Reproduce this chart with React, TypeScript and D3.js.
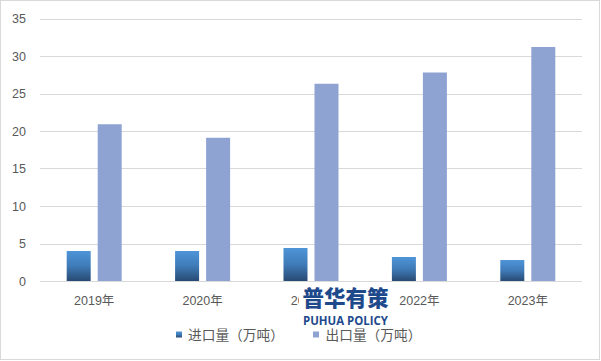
import React from "react";
import * as d3 from "d3";

const categories = ["2019年", "2020年", "2021年", "2022年", "2023年"];
const importValues = [4.0, 4.0, 4.4, 3.2, 2.8];
const exportValues = [20.9, 19.1, 26.3, 27.8, 31.2];
const seriesNames = ["进口量（万吨）", "出口量（万吨）"];
const yTicks = [0, 5, 10, 15, 20, 25, 30, 35];

const W = 601;
const H = 361;
const FONT = "'Liberation Sans', 'Noto Sans CJK SC', sans-serif";
const CJK = "'Noto Sans CJK SC', 'Liberation Sans', sans-serif";
const TEXT = "#595959";
const EXPORT_COLOR = "#8FA3D3";

export default function App() {
  const x = d3.scaleBand<string>().domain(categories).range([40, 582]).paddingInner(0).paddingOuter(0);
  const y = d3.scaleLinear().domain([0, 35]).range([281, 18.5]);
  const x1 = d3
    .scaleBand<string>()
    .domain(["import", "export"])
    .range([0, x.bandwidth()])
    .paddingInner(0.2258)
    .paddingOuter(0.861);

  return (
    <svg
      width={W}
      height={H}
      viewBox={`0 0 ${W} ${H}`}
      style={{ position: "absolute", left: 0, top: 0, background: "#fff" }}
    >
      <defs>
        <linearGradient id="impGrad" x1="0" y1="0" x2="0" y2="1">
          <stop offset="0" stopColor="#4E95D8" />
          <stop offset="0.5" stopColor="#3F7BB8" />
          <stop offset="1" stopColor="#284A73" />
        </linearGradient>
      </defs>
      <rect x={0} y={0} width={W} height={H} fill="#fff" />
      <rect x={0.5} y={0.5} width={599} height={359} fill="none" stroke="#d9d9d9" strokeWidth={1} />

      {yTicks.map((t) => (
        <g key={t}>
          <line x1={40} x2={582} y1={Math.round(y(t)) + 0.5} y2={Math.round(y(t)) + 0.5} stroke="#d9d9d9" strokeWidth={1} />
          <text x={26} y={y(t) + 4.5} textAnchor="end" fontSize={12.5} fill={TEXT} fontFamily={FONT}>
            {t}
          </text>
        </g>
      ))}

      {categories.map((c, i) => (
        <g key={c}>
          <rect
            x={(x(c) as number) + (x1("import") as number)}
            y={y(importValues[i])}
            width={x1.bandwidth()}
            height={y(0) - y(importValues[i])}
            fill="url(#impGrad)"
          />
          <rect
            x={(x(c) as number) + (x1("export") as number)}
            y={y(exportValues[i])}
            width={x1.bandwidth()}
            height={y(0) - y(exportValues[i])}
            fill={EXPORT_COLOR}
          />
          <text
            x={(x(c) as number) + x.bandwidth() / 2}
            y={305}
            textAnchor="middle"
            fontSize={12.5}
            fill={TEXT}
            fontFamily={FONT}
          >
            {c}
          </text>
        </g>
      ))}

      {/* watermark */}
      <rect x={299} y={284} width={92} height={26} fill="#fff" />
      <text x={345.5} y={306} textAnchor="middle" fontSize={21.5} fontWeight={900} fill="#1E4A8C" fontFamily={CJK}>
        普华有策
      </text>
      <text
        x={303}
        y={325}
        fontSize={12.5}
        fontWeight={700}
        fill="#1E4A8C"
        fontFamily="'Open Sans', 'Liberation Sans', sans-serif"
        textLength={85}
        lengthAdjust="spacingAndGlyphs"
      >
        PUHUA POLICY
      </text>

      {/* legend */}
      <rect x={176} y={331.5} width={6} height={6} fill="url(#impGrad)" />
      <text x={188} y={339.5} fontSize={13.7} fill={TEXT} fontFamily={CJK}>
        {seriesNames[0]}
      </text>
      <rect x={313} y={331.5} width={6} height={6} fill={EXPORT_COLOR} />
      <text x={325.5} y={339.5} fontSize={13.7} fill={TEXT} fontFamily={CJK}>
        {seriesNames[1]}
      </text>
    </svg>
  );
}
